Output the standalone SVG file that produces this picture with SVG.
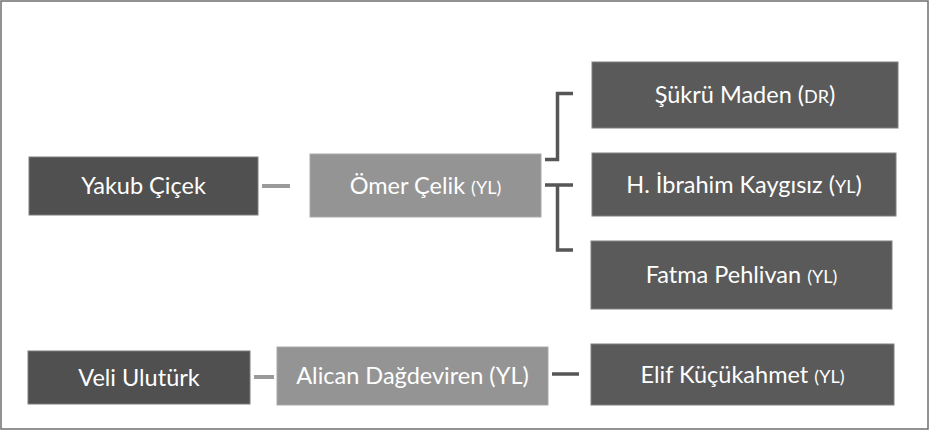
<svg xmlns="http://www.w3.org/2000/svg" width="930" height="433" viewBox="0 0 930 433">
  <style>
    .frame { fill: #ffffff; stroke: #6f6f6f; stroke-width: 1.5; }
    .dark { fill: #505050; stroke: #7c7c7c; stroke-width: 1; }
    .darker { fill: #5a5a5a; stroke: #808080; stroke-width: 1; }
    .mid { fill: #949494; stroke: #a9a9a9; stroke-width: 1; }
    .lbl { font-family: Lato, "Open Sans", "Liberation Sans", sans-serif; font-size: 23.5px; fill: #ffffff; text-anchor: middle; }
    .sm { font-size: 18px; }
    .line-lt { fill: none; stroke: #9a9a9a; stroke-width: 4; }
    .line-dk { fill: none; stroke: #565656; stroke-width: 3.5; }
  </style>

  <rect class="frame" x="1" y="1" width="927" height="428"/>

  <!-- connectors -->
  <g id="connectors">
    <path class="line-lt" d="M262 186 H290"/>
    <path class="line-dk" d="M545 159.5 H557.5 V93.5 H573"/>
    <path class="line-dk" d="M545 185 H573 M557.5 185 V250 H573"/>
    <path class="line-lt" d="M254 377 H274"/>
    <path class="line-dk" d="M552 374 H579"/>
  </g>

  <!-- first group -->
  <g id="yakub">
    <rect class="dark" x="29" y="157" width="229" height="58"/>
    <text class="lbl" x="143.5" y="194">Yakub Çiçek</text>
  </g>
  <g id="omer">
    <rect class="mid" x="310" y="154" width="231" height="63"/>
    <text class="lbl" x="425.5" y="194">Ömer Çelik <tspan class="sm">(YL)</tspan></text>
  </g>
  <g id="sukru">
    <rect class="darker" x="592" y="62" width="306" height="66"/>
    <text class="lbl" x="745" y="103">Şükrü Maden (<tspan class="sm">DR</tspan>)</text>
  </g>
  <g id="ibrahim">
    <rect class="darker" x="592" y="153" width="304" height="63"/>
    <text class="lbl" x="744" y="193">H. İbrahim Kaygısız (<tspan class="sm">YL</tspan>)</text>
  </g>
  <g id="fatma">
    <rect class="darker" x="591" y="241" width="301" height="68"/>
    <text class="lbl" x="741.5" y="283">Fatma Pehlivan <tspan class="sm">(YL)</tspan></text>
  </g>

  <!-- second group -->
  <g id="veli">
    <rect class="dark" x="28" y="351" width="222" height="53"/>
    <text class="lbl" x="139" y="386">Veli Ulutürk</text>
  </g>
  <g id="alican">
    <rect class="mid" x="277" y="347" width="271" height="58"/>
    <text class="lbl" x="412.5" y="384">Alican Dağdeviren (YL)</text>
  </g>
  <g id="elif">
    <rect class="darker" x="591" y="344" width="303" height="61"/>
    <text class="lbl" x="742.5" y="383">Elif Küçükahmet <tspan class="sm">(YL)</tspan></text>
  </g>
</svg>
